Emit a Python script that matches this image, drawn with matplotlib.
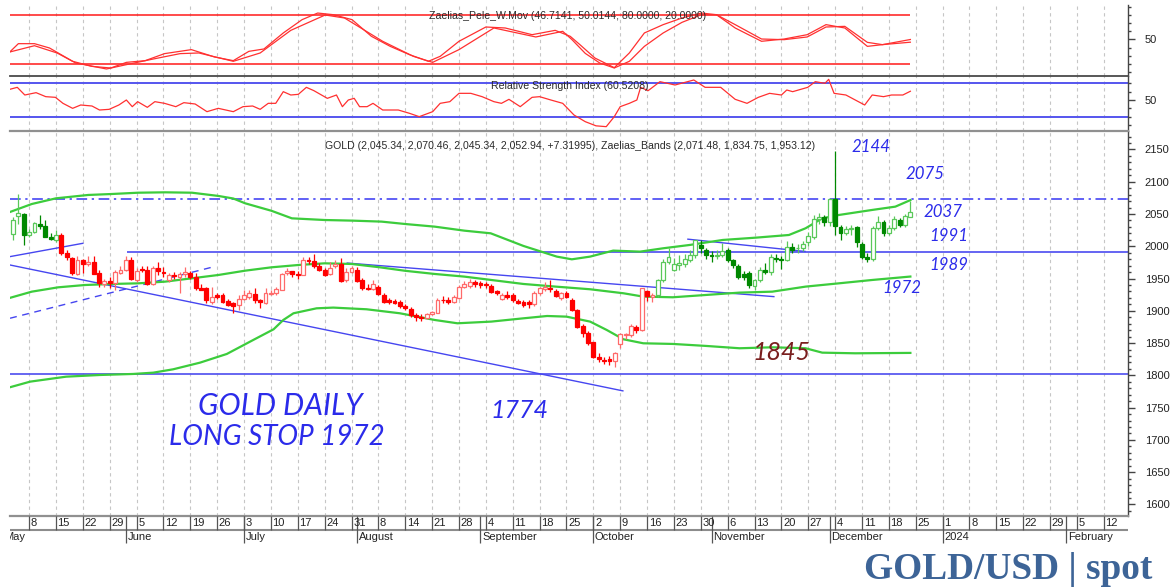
import numpy as np
import matplotlib
matplotlib.use("Agg")
import matplotlib.pyplot as plt
from matplotlib.patches import Rectangle
from matplotlib.ticker import FixedLocator

plt.rcParams['font.family'] = ['Liberation Sans', 'DejaVu Sans']

# ------------------------------------------------------------------ DATA
# bar position: trading day index, 0 = Monday 8 May 2023 (first bar = Wed 3 May)
bar_x = list(range(-3, 165))

opens = [2019, 2047, 2050,
         2018, 2022, 2035, 2031, 2015, 2010, 2017, 1989, 1982, 1957,
         1978, 1972, 1975, 1958, 1942, 1946, 1943, 1959, 1963, 1978,
         1948, 1965, 1963, 1942, 1966, 1960, 1948, 1956, 1952, 1957,
         1959, 1953, 1936, 1935, 1914, 1924, 1924, 1915, 1912, 1909,
         1918, 1921, 1926, 1916, 1912, 1926, 1927, 1933, 1958, 1961,
         1957, 1955, 1979, 1977, 1970, 1963, 1957, 1969, 1972, 1947,
         1960, 1964, 1948, 1936, 1934, 1937, 1925, 1916, 1915, 1914,
         1908, 1903, 1893, 1891, 1889, 1895, 1897, 1917, 1916, 1914,
         1920, 1937, 1938, 1945, 1943, 1941, 1939, 1930, 1918, 1925,
         1925, 1915, 1914, 1913, 1911, 1927, 1934, 1935, 1931, 1920,
         1927, 1917, 1901, 1877, 1866, 1851, 1829, 1824, 1826, 1823,
         1849, 1862, 1862, 1875, 1870, 1930, 1922, 1924, 1948, 1976,
         1964, 1971, 1972, 1979, 1986, 2002, 1994, 1986, 1985, 1986,
         1994, 1978, 1969, 1957, 1959, 1938, 1948, 1963, 1960, 1982,
         1980, 1979, 1999, 1997, 1998, 2007, 2014, 2042, 2045, 2038,
         2074, 2030, 2020, 2026, 2030, 2004, 1984, 1980, 2029, 2038,
         2020, 2028, 2041, 2033, 2045.34]
highs = [2045, 2081, 2052,
         2026, 2038, 2048, 2040, 2020, 2025, 2020, 1994, 1984, 1985,
         1981, 1985, 1985, 1963, 1950, 1952, 1963, 1969, 1985, 1983,
         1966, 1969, 1970, 1970, 1976, 1968, 1958, 1960, 1960, 1968,
         1962, 1958, 1941, 1937, 1937, 1928, 1927, 1919, 1914, 1924,
         1933, 1932, 1936, 1919, 1935, 1932, 1937, 1959, 1966, 1962,
         1961, 1984, 1984, 1988, 1974, 1966, 1976, 1979, 1982, 1966,
         1969, 1968, 1951, 1942, 1947, 1940, 1928, 1920, 1918, 1916,
         1911, 1906, 1896, 1895, 1897, 1900, 1920, 1923, 1921, 1925,
         1940, 1946, 1950, 1948, 1946, 1945, 1941, 1933, 1927, 1930,
         1927, 1918, 1916, 1916, 1931, 1937, 1944, 1948, 1934, 1929,
         1930, 1920, 1903, 1880, 1868, 1852, 1834, 1828, 1830, 1836,
         1866, 1866, 1880, 1878, 1936, 1932, 1928, 1950, 1980, 1998,
         1982, 1986, 1988, 1995, 2010, 2009, 1998, 1992, 1995, 2005,
         1997, 1981, 1972, 1962, 1961, 1950, 1968, 1974, 1988, 1988,
         1985, 2008, 2005, 2003, 2008, 2022, 2048, 2052, 2048, 2075,
         2147, 2033, 2031, 2033, 2032, 2006, 1990, 2031, 2047, 2041,
         2033, 2047, 2044, 2050, 2070.46]
lows = [2010, 2035, 2002,
        2015, 2021, 2026, 2014, 2009, 2007, 1986, 1979, 1955, 1955,
        1959, 1970, 1957, 1937, 1937, 1936, 1932, 1957, 1962, 1947,
        1945, 1960, 1940, 1940, 1955, 1952, 1944, 1950, 1928, 1953,
        1949, 1932, 1932, 1912, 1911, 1918, 1912, 1907, 1896, 1901,
        1916, 1919, 1912, 1904, 1910, 1924, 1925, 1932, 1956, 1953,
        1950, 1955, 1973, 1967, 1962, 1954, 1955, 1967, 1945, 1945,
        1958, 1944, 1933, 1932, 1932, 1924, 1912, 1911, 1910, 1905,
        1902, 1891, 1885, 1885, 1887, 1893, 1896, 1912, 1910, 1912,
        1918, 1935, 1936, 1937, 1936, 1935, 1927, 1925, 1916, 1919,
        1914, 1910, 1906, 1905, 1908, 1925, 1930, 1929, 1921, 1917,
        1920, 1899, 1873, 1860, 1847, 1827, 1820, 1818, 1816, 1813,
        1843, 1857, 1860, 1865, 1868, 1915, 1913, 1922, 1945, 1972,
        1962, 1964, 1968, 1975, 1982, 1990, 1981, 1976, 1980, 1983,
        1976, 1967, 1950, 1947, 1936, 1933, 1944, 1957, 1956, 1976,
        1965, 1977, 1990, 1990, 1993, 2001, 2012, 2035, 2031, 2032,
        2017, 2010, 2018, 2017, 1999, 1980, 1975, 1977, 2025, 2016,
        2017, 2025, 2030, 2030, 2045.34]
closes = [2040, 2051, 2017,
          2022, 2036, 2031, 2015, 2011, 2018, 1989, 1983, 1958, 1978,
          1972, 1976, 1957, 1943, 1946, 1943, 1960, 1963, 1978, 1949,
          1962, 1963, 1941, 1966, 1962, 1958, 1955, 1954, 1957, 1960,
          1953, 1936, 1933, 1916, 1921, 1922, 1914, 1909, 1907, 1919,
          1924, 1927, 1916, 1913, 1927, 1928, 1934, 1957, 1962, 1957,
          1955, 1978, 1977, 1970, 1963, 1955, 1967, 1972, 1946, 1960,
          1967, 1946, 1935, 1934, 1942, 1926, 1914, 1914, 1912, 1907,
          1904, 1893, 1890, 1889, 1895, 1898, 1917, 1916, 1914, 1921,
          1937, 1942, 1945, 1941, 1940, 1940, 1929, 1927, 1924, 1922,
          1917, 1912, 1909, 1911, 1927, 1935, 1937, 1934, 1923, 1927,
          1921, 1901, 1875, 1865, 1850, 1829, 1825, 1823, 1823, 1834,
          1864, 1864, 1876, 1871, 1935, 1923, 1924, 1948, 1976, 1983,
          1973, 1974, 1981, 1987, 2009, 1997, 1987, 1985, 1987, 1993,
          1979, 1971, 1953, 1952, 1940, 1948, 1964, 1960, 1983, 1981,
          1978, 1999, 1994, 1997, 2003, 2016, 2043, 2046, 2038, 2074,
          2032, 2021, 2026, 2029, 2007, 1984, 1981, 2028, 2038, 2021,
          2028, 2042, 2033, 2047, 2052.94]
green_until = 5     # bars up to here drawn green (up-trend colouring)
green_from = 117    # bars from here drawn green again

# Zaelias bands (bar position, price)
upper_x = [-3.6, 0.5, 5, 11, 15.4, 20.3, 25.3, 30.3, 35.2, 38, 40.2, 45.1, 48.9, 55, 60.3, 65.6, 70,
           75.5, 81, 85.9, 92, 98.2, 101, 104.4, 108.7, 113.7, 118, 122.9, 129.1, 135.3, 141.4,
           144.5, 147.6, 150.7, 156.9, 161.2, 164]
upper_v = [2053, 2065.5, 2074.3, 2079.5, 2081, 2083, 2083.6, 2083, 2078, 2074, 2066.6, 2055, 2043.3,
           2040.7, 2039.7, 2038.2, 2034.5, 2030.4, 2024.2, 2020.1, 2000.5, 1984, 1979.8, 1984, 1993.3,
           1991.7, 1996.9, 2002, 2009.8, 2013.4, 2017.5, 2027.9, 2043.3, 2048.5, 2056.3, 2061.4, 2071.5]
mid_x = [-3.6, 0.5, 5.4, 10.4, 15.4, 20.3, 25.3, 30.3, 35.2, 40.2, 45.1, 50.1, 55, 60, 65.3, 70,
         75.5, 81, 86, 92, 98, 104.4, 110.6, 114.3, 119.8, 126, 132.2, 138.3, 144.5, 150.7, 156.9, 164]
mid_v = [1920, 1929.7, 1936.4, 1940, 1941.6, 1942.6, 1945.2, 1950.4, 1955.5, 1962.2, 1967.4, 1971,
         1973.6, 1972.6, 1967.4, 1962, 1957.1, 1953, 1947.8, 1941.6, 1937.5, 1933.4, 1927.2, 1922,
         1921, 1924.6, 1928.2, 1929.7, 1937.5, 1942.6, 1947.8, 1953.1]
low_x = [-3.6, 0.2, 6.9, 13.2, 19.4, 23.1, 26.8, 31.8, 36.8, 41.7, 45.5, 47.3, 49.2, 53.5, 56.6,
         62.8, 69, 75.5, 79.7, 86, 92, 96.4, 100, 104.4, 107.5, 110.6, 114.3, 119.8, 126, 132.2,
         138.3, 144.5, 147.6, 153.7, 164]
low_v = [1781.5, 1790.3, 1798, 1800.6, 1802.2, 1804.2, 1809.4, 1819.7, 1833.2, 1854.8, 1871.4,
         1885.8, 1896.2, 1903.9, 1905, 1902.4, 1896.2, 1885.8, 1880.7, 1883.3, 1888.4, 1892, 1891,
         1883.3, 1870.3, 1855.9, 1849.7, 1848.7, 1845.6, 1842, 1843.5, 1842, 1835.2, 1834.2, 1834.8]

# Zaelias_Pele_W.Mov oscillator (two lines)
pele_a_x = [-3.6, -2, 1, 3.8, 8.1, 11.7, 15.2, 18.1, 21.6, 25.2, 30.2, 34.5, 38, 40.9, 43.7, 47.3,
            50.8, 53.7, 56.6, 60.1, 63.7, 67.2, 70.8, 74.3, 76.5, 80, 85, 88.6, 93.6, 97.9, 100.7,
            102.5, 105.3, 108.9, 111.7, 114.5, 118, 121.5, 125.1, 127.9, 131.4, 136.3, 140.5, 144.8,
            148.3, 151.8, 156, 158.8, 164]
pele_a_v = [34.7, 44.9, 44.9, 39.6, 23.3, 17.1, 15.1, 22, 24.1, 32.7, 37.6, 28.6, 24.1, 35.5, 38.4,
            58, 74.3, 82.4, 80.4, 74.3, 53.9, 41.6, 31.4, 23.3, 29.4, 47.8, 65.3, 64.1, 55.9, 61.2,
            53.9, 43.7, 27.3, 15.5, 33.5, 58, 68.2, 76.3, 82.4, 80.4, 64.1, 47.8, 50.6, 55.9, 68.2,
            64.1, 41.6, 43.7, 50.0]
pele_b_x = [-3.6, 1, 5.2, 8.7, 14.4, 18.1, 23.1, 28.1, 31.6, 38, 43, 48.7, 55.1, 58.7, 65.8, 71.5,
            75.1, 80, 86.5, 94.3, 99.3, 101, 103.5, 106.2, 108.9, 111.7, 114.5, 118, 121.5, 125.1,
            127.9, 131.4, 136.3, 140.5, 144.8, 148.3, 151.8, 156, 158.8, 164]
pele_b_v = [34.7, 42.4, 33.5, 21.2, 13.9, 19.2, 26.1, 32.7, 33.5, 23.3, 33.5, 61.2, 80, 76.3, 47.8,
            29.4, 22, 37.6, 64.1, 53.1, 60, 50, 33, 21.2, 15.1, 23.3, 41.6, 58, 71, 80.4, 80.4, 68.2,
            50.6, 49.8, 53.1, 65.3, 66.1, 46.5, 43.7, 46.7]
pele_levels = [80, 20]

# Relative Strength Index
rsi_x = [-3.6, -2.2, -0.8, 1.3, 3.1, 4.9, 6.3, 8.1, 9.6, 11.7, 13.1, 14.9, 16.7, 18.1, 19.2, 20.2,
         22, 23.4, 25.2, 27.3, 28.8, 30.9, 33.1, 35.2, 38, 39.8, 41.6, 43, 44.5, 45.9, 47.3, 48.7,
         50.1, 51.6, 53, 55.5, 57.2, 58.3, 59.4, 60.5, 61.5, 62.9, 64, 65.8, 68.7, 70.8, 72.6, 75.1,
         76.5, 78.3, 80, 82.2, 84.3, 86.5, 87.9, 89.3, 91.4, 93.6, 95, 97.1, 99.3, 101.4, 103.5,
         105.5, 107.4, 108.9, 110, 111.7, 113.1, 113.8, 115.2, 117.4, 120.2, 123.7, 125.8, 128.7,
         131.4, 133.6, 135.7, 137.8, 140, 141, 142.1, 144.9, 146.3, 148.1, 148.8, 149.8, 152, 155.5,
         156.9, 159, 160.5, 162.6, 164]
rsi_v = [62.8, 65.2, 56, 58.8, 54, 53.2, 46, 40, 44, 42.8, 38, 38.8, 44, 50, 42, 48, 41.2, 48, 46, 42,
         46.8, 45.2, 36, 40, 36, 42, 42.8, 38.8, 46, 46, 60, 56, 56.8, 65.2, 61.2, 52, 56, 42, 50, 52,
         42, 42, 46, 38, 38, 34, 30, 36, 46, 48, 58, 58, 54, 48, 46, 50.8, 42, 53.2, 54, 50, 46, 32,
         24, 19, 18, 30, 42, 46, 50, 65.2, 61.2, 72, 68, 74, 65.2, 65.2, 50.8, 46, 53.2, 58, 56, 62,
         60, 65.2, 72, 70, 74.8, 58, 56, 44, 56, 54, 56, 56, 60.5]
rsi_levels = [70, 30]

# drawn support / resistance levels and trend lines (bar position, price)
level_1991 = 1991
level_1802 = 1802
level_2074 = 2074
level_1991_start = 18.2
trend_main = [(-3.55, 1971), (110.5, 1776)]
trend_short_up = [(-3.55, 1984), (10, 2004.6)]
trend_dashed_up = [(-3.55, 1888.5), (34, 1967.5)]
trend_mid_down = [(59.2, 1974), (138.6, 1922)]
trend_top_down = [(122.6, 2011), (144.4, 1992)]

# axis labels
week_pos = list(range(0, 201, 5))
week_labels = ['8', '15', '22', '29', '5', '12', '19', '26', '3', '10', '17', '24', '31', '8',
               '14', '21', '28', '4', '11', '18', '25', '2', '9', '16', '23', '30', '6', '13',
               '20', '27', '4', '11', '18', '25', '1', '8', '15', '22', '29', '5', '12']
month_pos = [-5, 18, 40, 61, 84, 105, 127, 149, 170, 193]
month_labels = ['May', 'June', 'July', 'August', 'September', 'October', 'November',
                'December', '2024', 'February']
price_ticks = list(range(1600, 2151, 50))

header_pele = 'Zaelias_Pele_W.Mov (46.7141, 50.0144, 80.0000, 20.0000)'
header_rsi = 'Relative Strength Index (60.5208)'
header_main = ('GOLD (2,045.34, 2,070.46, 2,045.34, 2,052.94, +7.31995), '
               'Zaelias_Bands (2,071.48, 1,834.75, 1,953.12)')
notes_small = ['2144', '2075', '2037', '1991', '1989', '1972']
notes_big = ['1774', '1845']
notes_caption = ['GOLD DAILY', 'LONG STOP 1972']
title = 'GOLD/USD | spot'

# ------------------------------------------------------------------ LAYOUT / STYLE
W, H = 1173, 587
L, R = 10, 1128
XLIM = (-3.555, 204.5)
fig = plt.figure(figsize=(W / 100, H / 100), dpi=100)
fig.patch.set_facecolor('white')

GRID = '#c6c6c6'
AX_COL = '#444444'
BLUE = '#3535f2'
BAND = '#3ccc3c'
G_FILL, G_LINE = '#008800', '#5ac85a'
R_FILL, R_LINE = '#ff0000', '#ff6a6a'
HAND = dict(style='italic', weight='normal', family=['Lato', 'DejaVu Sans'])


def make_ax(top, bottom, ylim):
    ax = fig.add_axes([L / W, 1 - bottom / H, (R - L) / W, (bottom - top) / H])
    ax.set_xlim(*XLIM)
    ax.set_ylim(*ylim)
    for s in ['left', 'top', 'bottom']:
        ax.spines[s].set_visible(False)
    ax.spines['right'].set_color(AX_COL)
    ax.spines['right'].set_linewidth(1.0)
    ax.yaxis.tick_right()
    ax.tick_params(axis='y', which='major', direction='out', length=5, width=1, color=AX_COL,
                   labelsize=8, labelcolor='#222222', pad=7)
    ax.tick_params(axis='y', which='minor', direction='out', length=2.5, width=1, color=AX_COL)
    ax.tick_params(axis='x', which='both', bottom=False, labelbottom=False)
    ax.set_xticks(week_pos)
    ax.grid(axis='x', color=GRID, linestyle=(0, (3, 3)), linewidth=0.8)
    ax.set_axisbelow(True)
    return ax


# ---- top oscillator panel
ax_top = make_ax(5, 76, (5.31, 92.24))
ax_top.yaxis.set_major_locator(FixedLocator([50]))
ax_top.yaxis.set_minor_locator(FixedLocator([10, 20, 30, 40, 60, 70, 80, 90]))
ax_top.hlines(pele_levels, XLIM[0], bar_x[-1], color='#ff1a1a', lw=1.1)
ax_top.plot(pele_a_x, pele_a_v, color='#ff3030', lw=0.9)
ax_top.plot(pele_b_x, pele_b_v, color='#ff3030', lw=0.9)

# ---- RSI panel
ax_rsi = make_ax(76, 131, (12.8, 78.8))
ax_rsi.spines['top'].set_visible(True)
ax_rsi.spines['top'].set_color('#4a4a4a')
ax_rsi.spines['top'].set_linewidth(1.3)
ax_rsi.yaxis.set_major_locator(FixedLocator([50]))
ax_rsi.yaxis.set_minor_locator(FixedLocator([20, 30, 40, 60, 70]))
ax_rsi.axhline(rsi_levels[0], color='#5555ee', lw=1.4)
ax_rsi.axhline(rsi_levels[1], color='#5555ee', lw=1.4)
ax_rsi.plot(rsi_x, rsi_v, color='#ff3030', lw=0.9)

# ---- main price panel
ax = make_ax(131, 515.5, (1582.9, 2178.6))
for s in ['top', 'bottom']:
    ax.spines[s].set_visible(True)
    ax.spines[s].set_color('#909090')
    ax.spines[s].set_linewidth(1.6)
ax.yaxis.set_major_locator(FixedLocator(price_ticks))
ax.yaxis.set_minor_locator(FixedLocator([v for v in range(1590, 2180, 10) if v % 50]))
ax.set_yticklabels([str(v) for v in price_ticks])

# levels & trend lines
ax.hlines(level_1802, XLIM[0], XLIM[1], color='#5a5af0', lw=1.3, zorder=2)
ax.hlines(level_1991, level_1991_start, XLIM[1], color='#4a4af0', lw=1.2, zorder=2)
ax.hlines(level_2074, XLIM[0], XLIM[1], color=BLUE, lw=1.1, linestyles=[(0, (7, 3, 1.5, 3))], zorder=2)
for seg, ls in [(trend_main, '-'), (trend_short_up, '-'), (trend_mid_down, '-'),
                (trend_top_down, '-'), (trend_dashed_up, (0, (5, 4)))]:
    ax.plot([seg[0][0], seg[1][0]], [seg[0][1], seg[1][1]], color='#4646f0', lw=1.0,
            linestyle=ls, zorder=2)

# bands
ax.plot(upper_x, upper_v, color=BAND, lw=1.6, zorder=3)
ax.plot(mid_x, mid_v, color=BAND, lw=1.6, zorder=3)
ax.plot(low_x, low_v, color=BAND, lw=1.6, zorder=3)

# candles
bw = 0.72
for x, o, h, l, c in zip(bar_x, opens, highs, lows, closes):
    up_col = x <= green_until or x >= green_from
    fill_c, line_c = (G_FILL, G_LINE) if up_col else (R_FILL, R_LINE)
    hollow = c >= o
    wick_c = line_c if hollow else fill_c
    ax.plot([x, x], [l, h], color=wick_c, lw=0.9, zorder=4, solid_capstyle='butt')
    lo, hi = min(o, c), max(o, c)
    if hollow:
        rect = Rectangle((x - bw / 2, lo), bw, hi - lo, facecolor='white', edgecolor=line_c,
                         lw=0.9, zorder=5)
    else:
        rect = Rectangle((x - bw / 2, lo), bw, hi - lo, facecolor=fill_c, edgecolor=fill_c,
                         lw=0.9, zorder=5)
    ax.add_patch(rect)

# ---- date strip
axd = fig.add_axes([L / W, 1 - 549 / H, (R - L) / W, (549 - 515.5) / H])
axd.set_xlim(*XLIM)
axd.set_ylim(549, 515.5)
axd.axis('off')
axd.hlines(530, XLIM[0], XLIM[1], color='#8c8c8c', lw=1.5)
axd.vlines(week_pos, 515.5, 530, color='#555555', lw=0.9)
axd.vlines(month_pos, 515.5, 543, color='#555555', lw=0.9)
for p, lab in zip(week_pos, week_labels):
    axd.text(p + 0.3, 523, lab, fontsize=8, color='#222222', ha='left', va='center', clip_on=True)
for p, lab in zip(month_pos, month_labels):
    axd.text(p + 0.3, 537.5, lab, fontsize=8, color='#222222', ha='left', va='center', clip_on=True)

# ---- texts
def ptext(x, y, s, **kw):
    return fig.text(x / W, 1 - y / H, s, **kw)

ptext(568, 16, header_pele, fontsize=7.6, color='#2a2a2a', ha='center', va='center')
ptext(570, 86, header_rsi, fontsize=7.6, color='#2a2a2a', ha='center', va='center')
ptext(570, 146, header_main, fontsize=7.6, color='#2a2a2a', ha='center', va='center')

small_pos = [(871, 147), (925, 174), (943, 212), (949, 236), (949, 265), (902, 288)]
small_objs = [ptext(px, py, s, fontsize=13, color='#2b2bea', ha='center', va='center', **HAND)
              for s, (px, py) in zip(notes_small, small_pos)]
big_objs = [ptext(519, 411, notes_big[0], fontsize=18, color='#2b2bea', ha='center', va='center', **HAND),
            ptext(781, 352, notes_big[1], fontsize=18, color='#7a1f1f', ha='center', va='center', **HAND)]
cap_objs = [ptext(280, 406, notes_caption[0], fontsize=22, color='#2b2bea', ha='center', va='center', **HAND),
            ptext(277, 437, notes_caption[1], fontsize=22, color='#2b2bea', ha='center', va='center', **HAND)]
t_title = fig.text(1152 / W, 1 - 579 / H, title, fontsize=24, color='#3d6497', ha='right',
                   va='baseline', fontweight='bold', family=['Liberation Serif', 'DejaVu Serif'])

renderer = fig.canvas.get_renderer()


def fit(objs, ref_obj, width):
    bb = ref_obj.get_window_extent(renderer=renderer)
    k = width / bb.width
    for t in objs:
        t.set_fontsize(t.get_fontsize() * k)


fit(small_objs, small_objs[2], 39)
fit(big_objs, big_objs[0], 58)
fit(cap_objs[:1], cap_objs[0], 164)
fit(cap_objs[1:], cap_objs[1], 215)
fit([t_title], t_title, 289)

fig.savefig('out.png', dpi=100, facecolor='white')
